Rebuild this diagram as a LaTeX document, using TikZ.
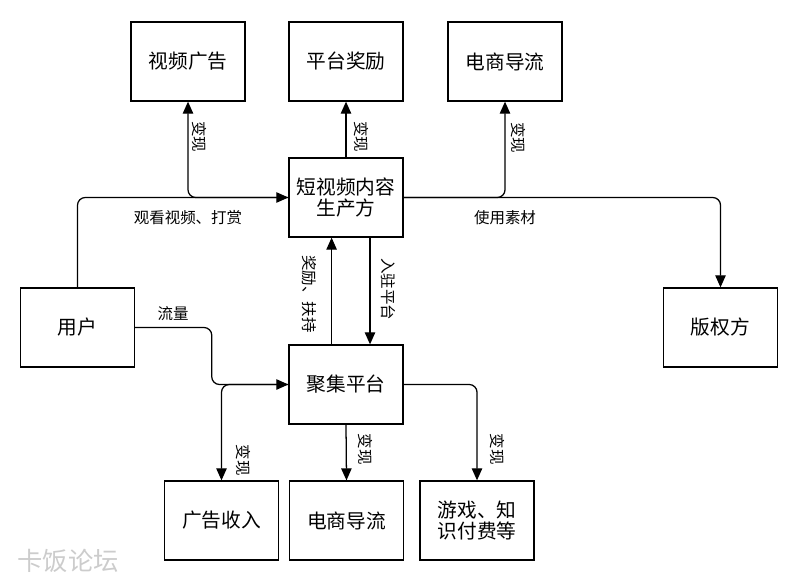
\documentclass[tikz,border=0pt]{standalone}
\usepackage{fontspec}
\setmainfont{Noto Sans CJK SC}
\usetikzlibrary{arrows.meta,calc}
\definecolor{ink}{HTML}{000000}
\definecolor{markc}{HTML}{CCCCCC}

\begin{document}
\begin{tikzpicture}[
  x=0.025cm, y=-0.025cm,
  every node/.style={font=\fontsize{11}{12}\selectfont, color=ink},
  box/.style={draw=ink, line width=0.9pt, minimum width=2.85cm, minimum height=1.975cm,
    align=center, inner sep=1pt, font=\fontsize{14}{15}\selectfont},
  flow/.style={-{Triangle[length=3mm,width=2.6mm]}, line width=0.9pt, draw=ink, rounded corners=5.5pt},
  vlabel/.style={rotate=-90, inner sep=1pt}
]
\useasboundingbox (0,0) rectangle (800,584);

% Top row
\node[box] (videoad) at (188,61.5) {视频广告};
\node[box] (reward) at (346,61.5) {平台奖励};
\node[box] (shoptop) at (505,61.5) {电商导流};

% Middle
\node[box] (creator) at (346,197.5) {短视频内容\\生产方};
\node[box] (user) at (77.5,327.5) {用户};
\node[box] (rights) at (720.5,327.5) {版权方};
\node[box] (platform) at (346,384.5) {聚集平台};

% Bottom row
\node[box] (adincome) at (221.5,520.5) {广告收入};
\node[box] (shopbot) at (346.5,520.5) {电商导流};
\node[box] (game) at (477,520.5) {游戏、知\\识付费等};

% Creator monetisation
\draw[flow] (creator.west) -| (videoad.south);
\draw[flow] (creator.north) -- (reward.south);
\draw[flow] (creator.east) -| (shoptop.south);
\node[vlabel] (l1) at (199,137) {变现};
\node[vlabel] (l2) at (361,137) {变现};
\node[vlabel] (l3) at (518,138) {变现};

% User and rights holder
\draw[flow] (user.north) |- (creator.west);
\node (l4) at (188,218) {观看视频、打赏};
\draw[flow] (creator.east) -| (rights.north);
\node (l5) at (505,218) {使用素材};

% Creator <-> platform
\draw[flow] ([xshift=-0.36cm]platform.north) -- ([xshift=-0.36cm]creator.south);
\draw[flow] ([xshift=0.6cm]creator.south) -- ([xshift=0.6cm]platform.north);
\node[vlabel] (l6) at (309,294) {奖励、扶持};
\node[vlabel] (l7) at (388,289) {入驻平台};

% Traffic
\coordinate (mid) at ($(user.east)!0.5!(platform.west)$);
\draw[flow] (user.east) -| (mid) |- (platform.west);
\node (l8) at (173,314) {流量};

% Platform monetisation
\draw[flow] (platform.west) -| (adincome.north);
\draw[flow] (platform.south) -- (shopbot.north);
\draw[flow] (platform.east) -| (game.north);
\node[vlabel] (l9) at (243,460) {变现};
\node[vlabel] (l10) at (365,449) {变现};
\node[vlabel] (l11) at (497,449) {变现};

% Watermark
\node[font=\fontsize{18}{18}\selectfont, color=markc] (mark) at (68,561) {卡饭论坛};

\end{tikzpicture}
\end{document}
